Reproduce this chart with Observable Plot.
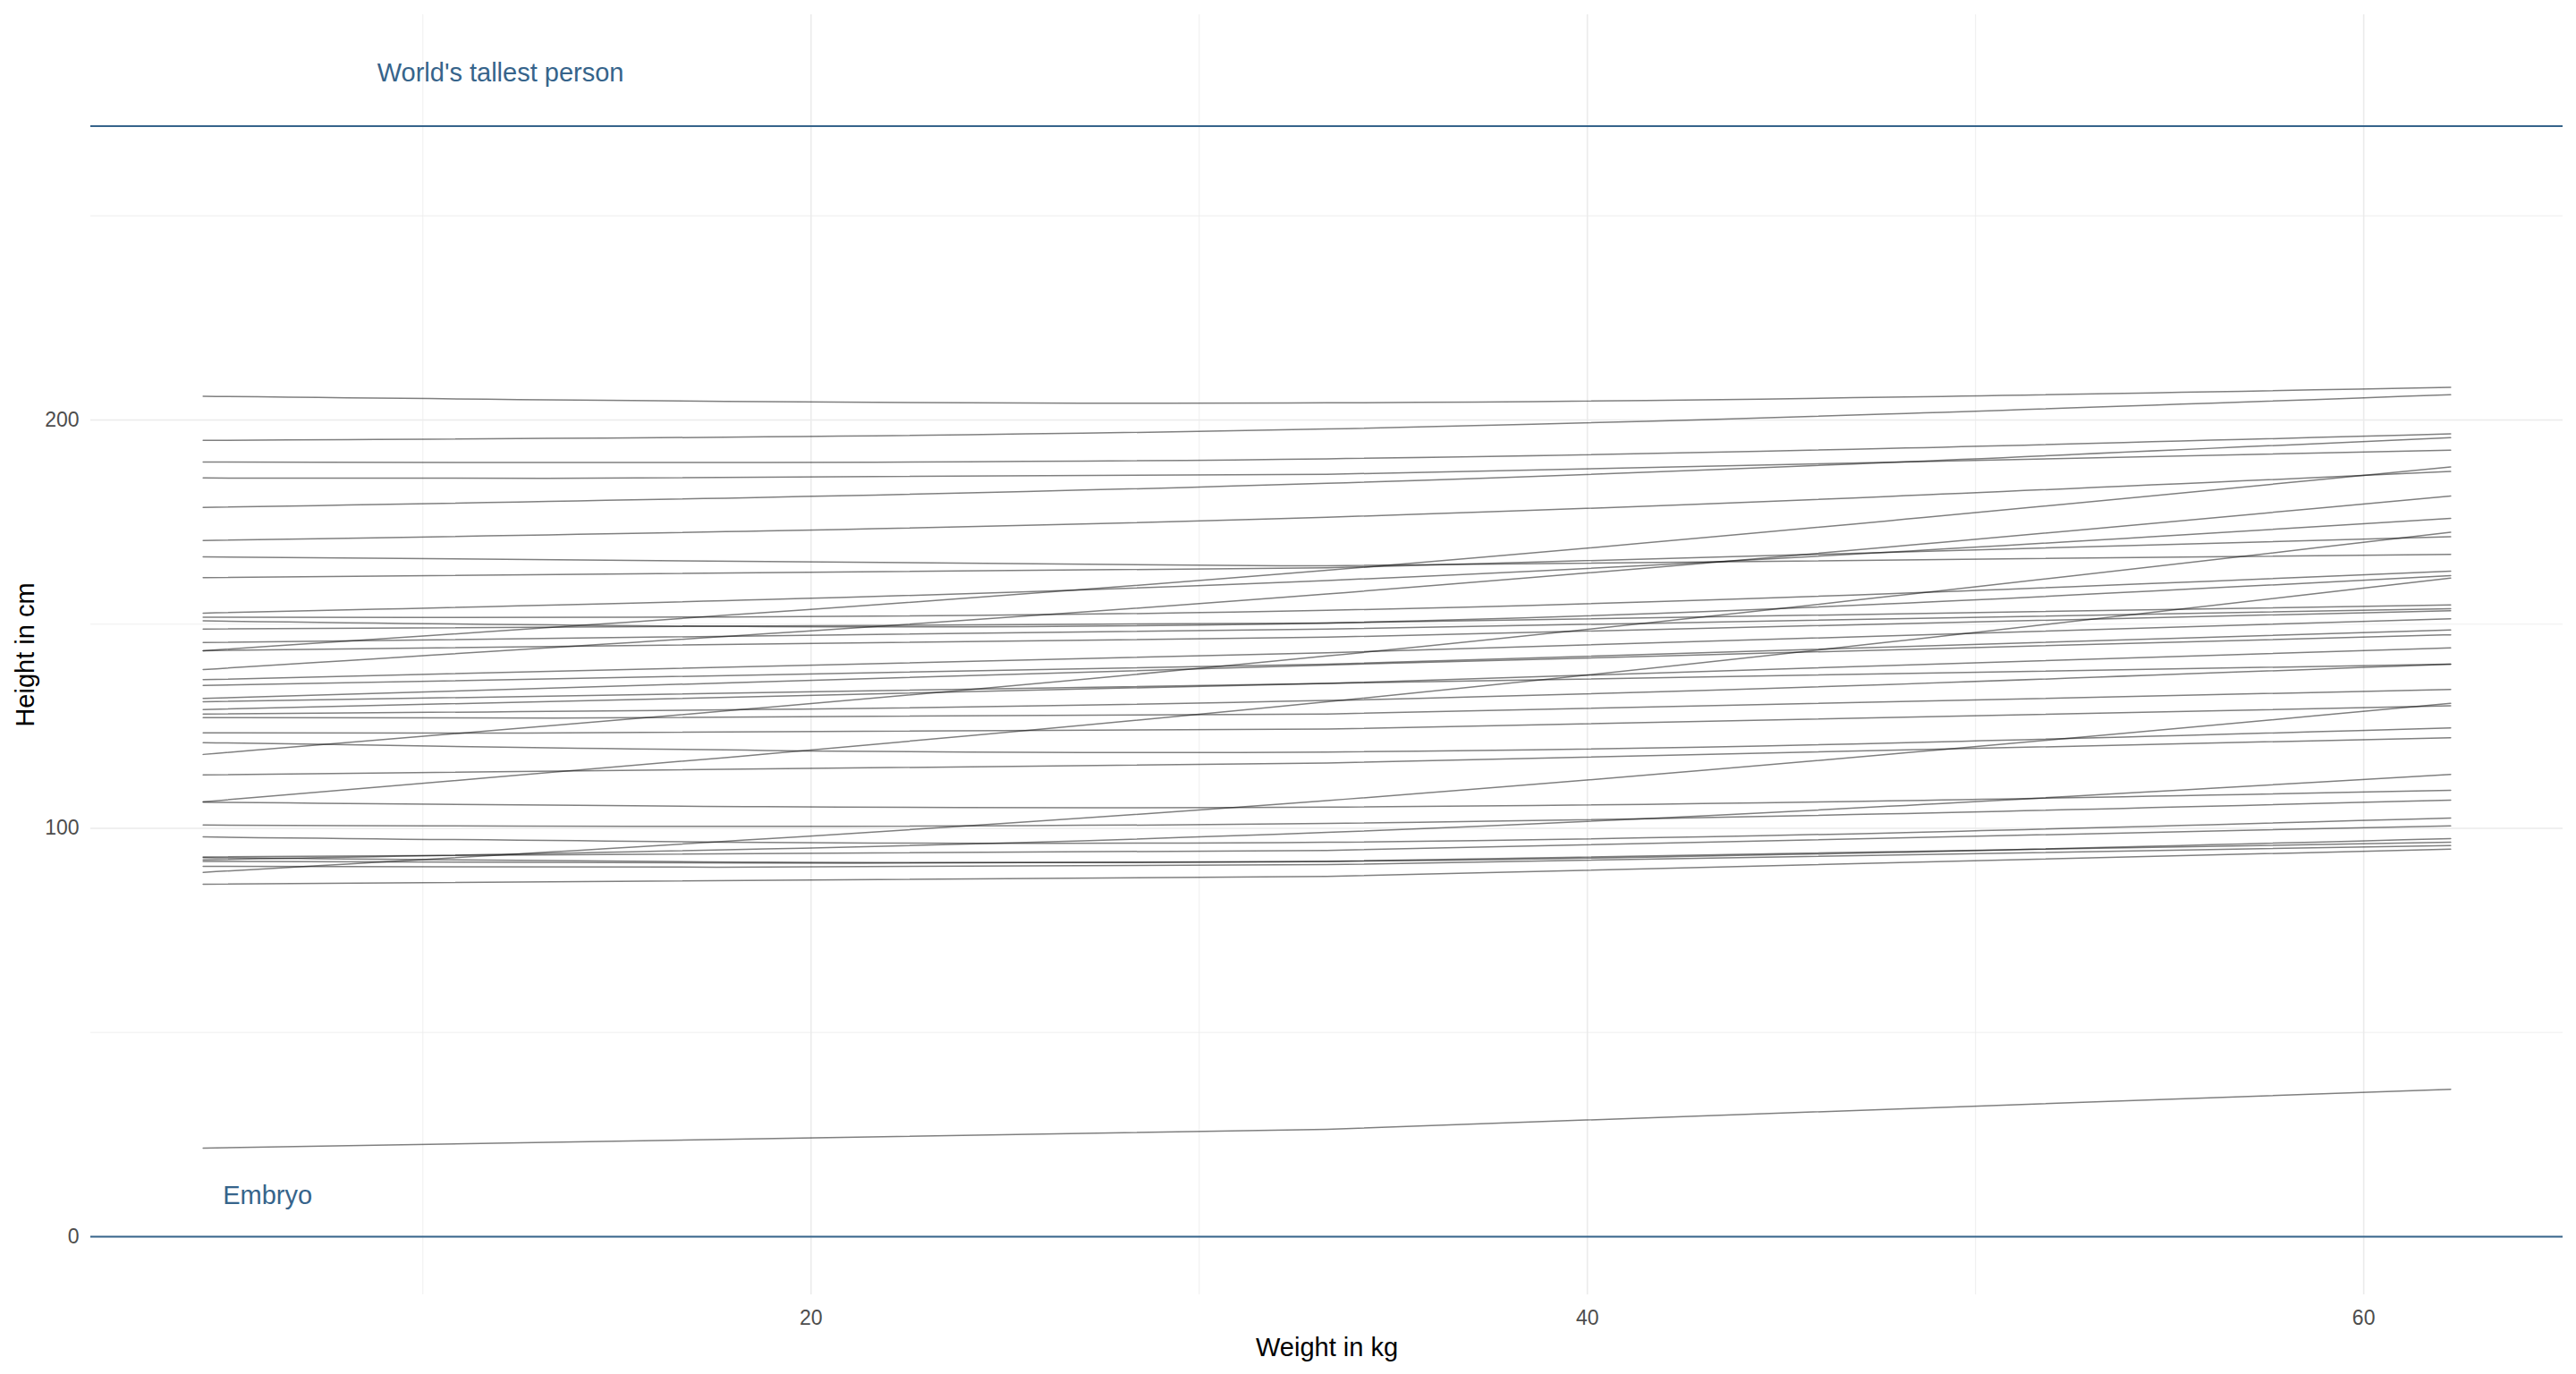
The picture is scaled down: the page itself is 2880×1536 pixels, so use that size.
<!DOCTYPE html>
<html>
<head>
<meta charset="utf-8">
<script src="https://cdn.jsdelivr.net/npm/d3@7"></script>
<script src="https://cdn.jsdelivr.net/npm/@observablehq/plot@0.6"></script>
<style>
  html, body { margin: 0; padding: 0; background: #ffffff; }
  #chart svg { display: block; }
</style>
</head>
<body>
<div id="chart"></div>
<script>
// Weight positions (kg) at which each child's curve is read: start, middle, end
const weightPoints = [4.34, 33.29, 62.24];

// Height (cm) of each curve at the start, middle and end weight
const heightStart = [205.8, 195.0, 189.7, 185.8, 178.6, 170.5, 166.5, 161.4, 152.7, 151.7,
  150.8, 148.8, 145.5, 143.5, 143.5, 138.9, 136.4, 135.0, 131.8, 131.0,
  129.1, 128.0, 127.1, 123.4, 121.0, 118.1, 113.1, 106.5, 106.4, 100.8,
  97.9, 93.0, 92.8, 92.3, 91.9, 90.7, 89.2, 86.3, 21.7];
const heightMid = [204.2, 197.8, 190.5, 186.7, 184.5, 176.2, 164.3, 163.8, 160.7, 153.4,
  150.3, 150.3, 148.8, 146.8, 163.2, 157.4, 143.0, 140.2, 140.0, 135.5,
  135.5, 131.3, 128.0, 124.3, 118.7, 142.2, 116.0, 131.0, 105.2, 101.2,
  96.6, 94.6, 91.9, 99.0, 91.9, 91.1, 106.8, 88.2, 26.3];
const heightEnd = [208.0, 206.2, 196.6, 192.6, 195.7, 187.4, 167.1, 171.4, 175.9, 163.0,
  161.9, 154.7, 153.8, 153.3, 188.5, 181.4, 151.3, 148.6, 147.4, 144.2,
  140.2, 140.2, 134.0, 130.0, 124.6, 172.5, 122.2, 161.3, 109.3, 106.9,
  102.5, 100.6, 97.5, 113.2, 96.6, 95.8, 130.6, 94.9, 36.1];

// Reference lines and their labels
const refHeights = [272, 0];
const refLabels = ["World's tallest person", "Embryo"];
const refLabelX = [12, 6];
const refLabelY = [285, 10];

// Axis ticks
const xTicks = [20, 40, 60];
const xMinorTicks = [10, 30, 50];
const yTicks = [0, 100, 200];
const yMinorTicks = [50, 150, 250];

// Build long table for the line mark
const rows = [];
heightStart.forEach((s, i) => {
  [s, heightMid[i], heightEnd[i]].forEach((h, j) => {
    rows.push({id: i, weight: weightPoints[j], height: h});
  });
});
const labels = refLabels.map((t, i) => ({text: t, x: refLabelX[i], y: refLabelY[i]}));

const font = "'Liberation Sans', Arial, 'DejaVu Sans', sans-serif";
const refColor = "#36648B";

const chart = Plot.plot({
  width: 2880,
  height: 1536,
  marginLeft: 101,
  marginRight: 15,
  marginTop: 16,
  marginBottom: 89,
  style: {fontFamily: font, background: "#ffffff", color: "#000000"},
  x: {domain: [1.445, 65.135]},
  y: {domain: [-14.25, 299.25]},
  marks: [
    Plot.ruleX(xMinorTicks, {stroke: "#ebebeb", strokeWidth: 0.8}),
    Plot.ruleY(yMinorTicks, {stroke: "#ebebeb", strokeWidth: 0.8}),
    Plot.ruleX(xTicks, {stroke: "#ebebeb", strokeWidth: 1.6}),
    Plot.ruleY(yTicks, {stroke: "#ebebeb", strokeWidth: 1.6}),
    Plot.axisX({ticks: xTicks, tickSize: 0, tickPadding: 17, fontSize: 23, color: "#4d4d4d", label: null}),
    Plot.axisY({ticks: yTicks, tickSize: 0, tickPadding: 13, fontSize: 23, color: "#4d4d4d", label: null}),
    Plot.line(rows, {x: "weight", y: "height", z: "id", curve: "natural",
      stroke: "#000000", strokeOpacity: 0.5, strokeWidth: 1.5}),
    Plot.ruleY(refHeights, {stroke: refColor, strokeWidth: 2}),
    Plot.text(labels, {x: "x", y: "y", text: "text", fill: refColor, fontSize: 29,
      textAnchor: "middle", lineAnchor: "middle"}),
    Plot.text(["Weight in kg"], {frameAnchor: "bottom", dy: 59, fontSize: 29, fill: "#000000",
      textAnchor: "middle", lineAnchor: "middle"}),
    Plot.text(["Height in cm"], {frameAnchor: "left", dx: -73, rotate: -90, fontSize: 29, fill: "#000000",
      textAnchor: "middle", lineAnchor: "middle"})
  ]
});
document.getElementById("chart").appendChild(chart);
</script>
</body>
</html>
